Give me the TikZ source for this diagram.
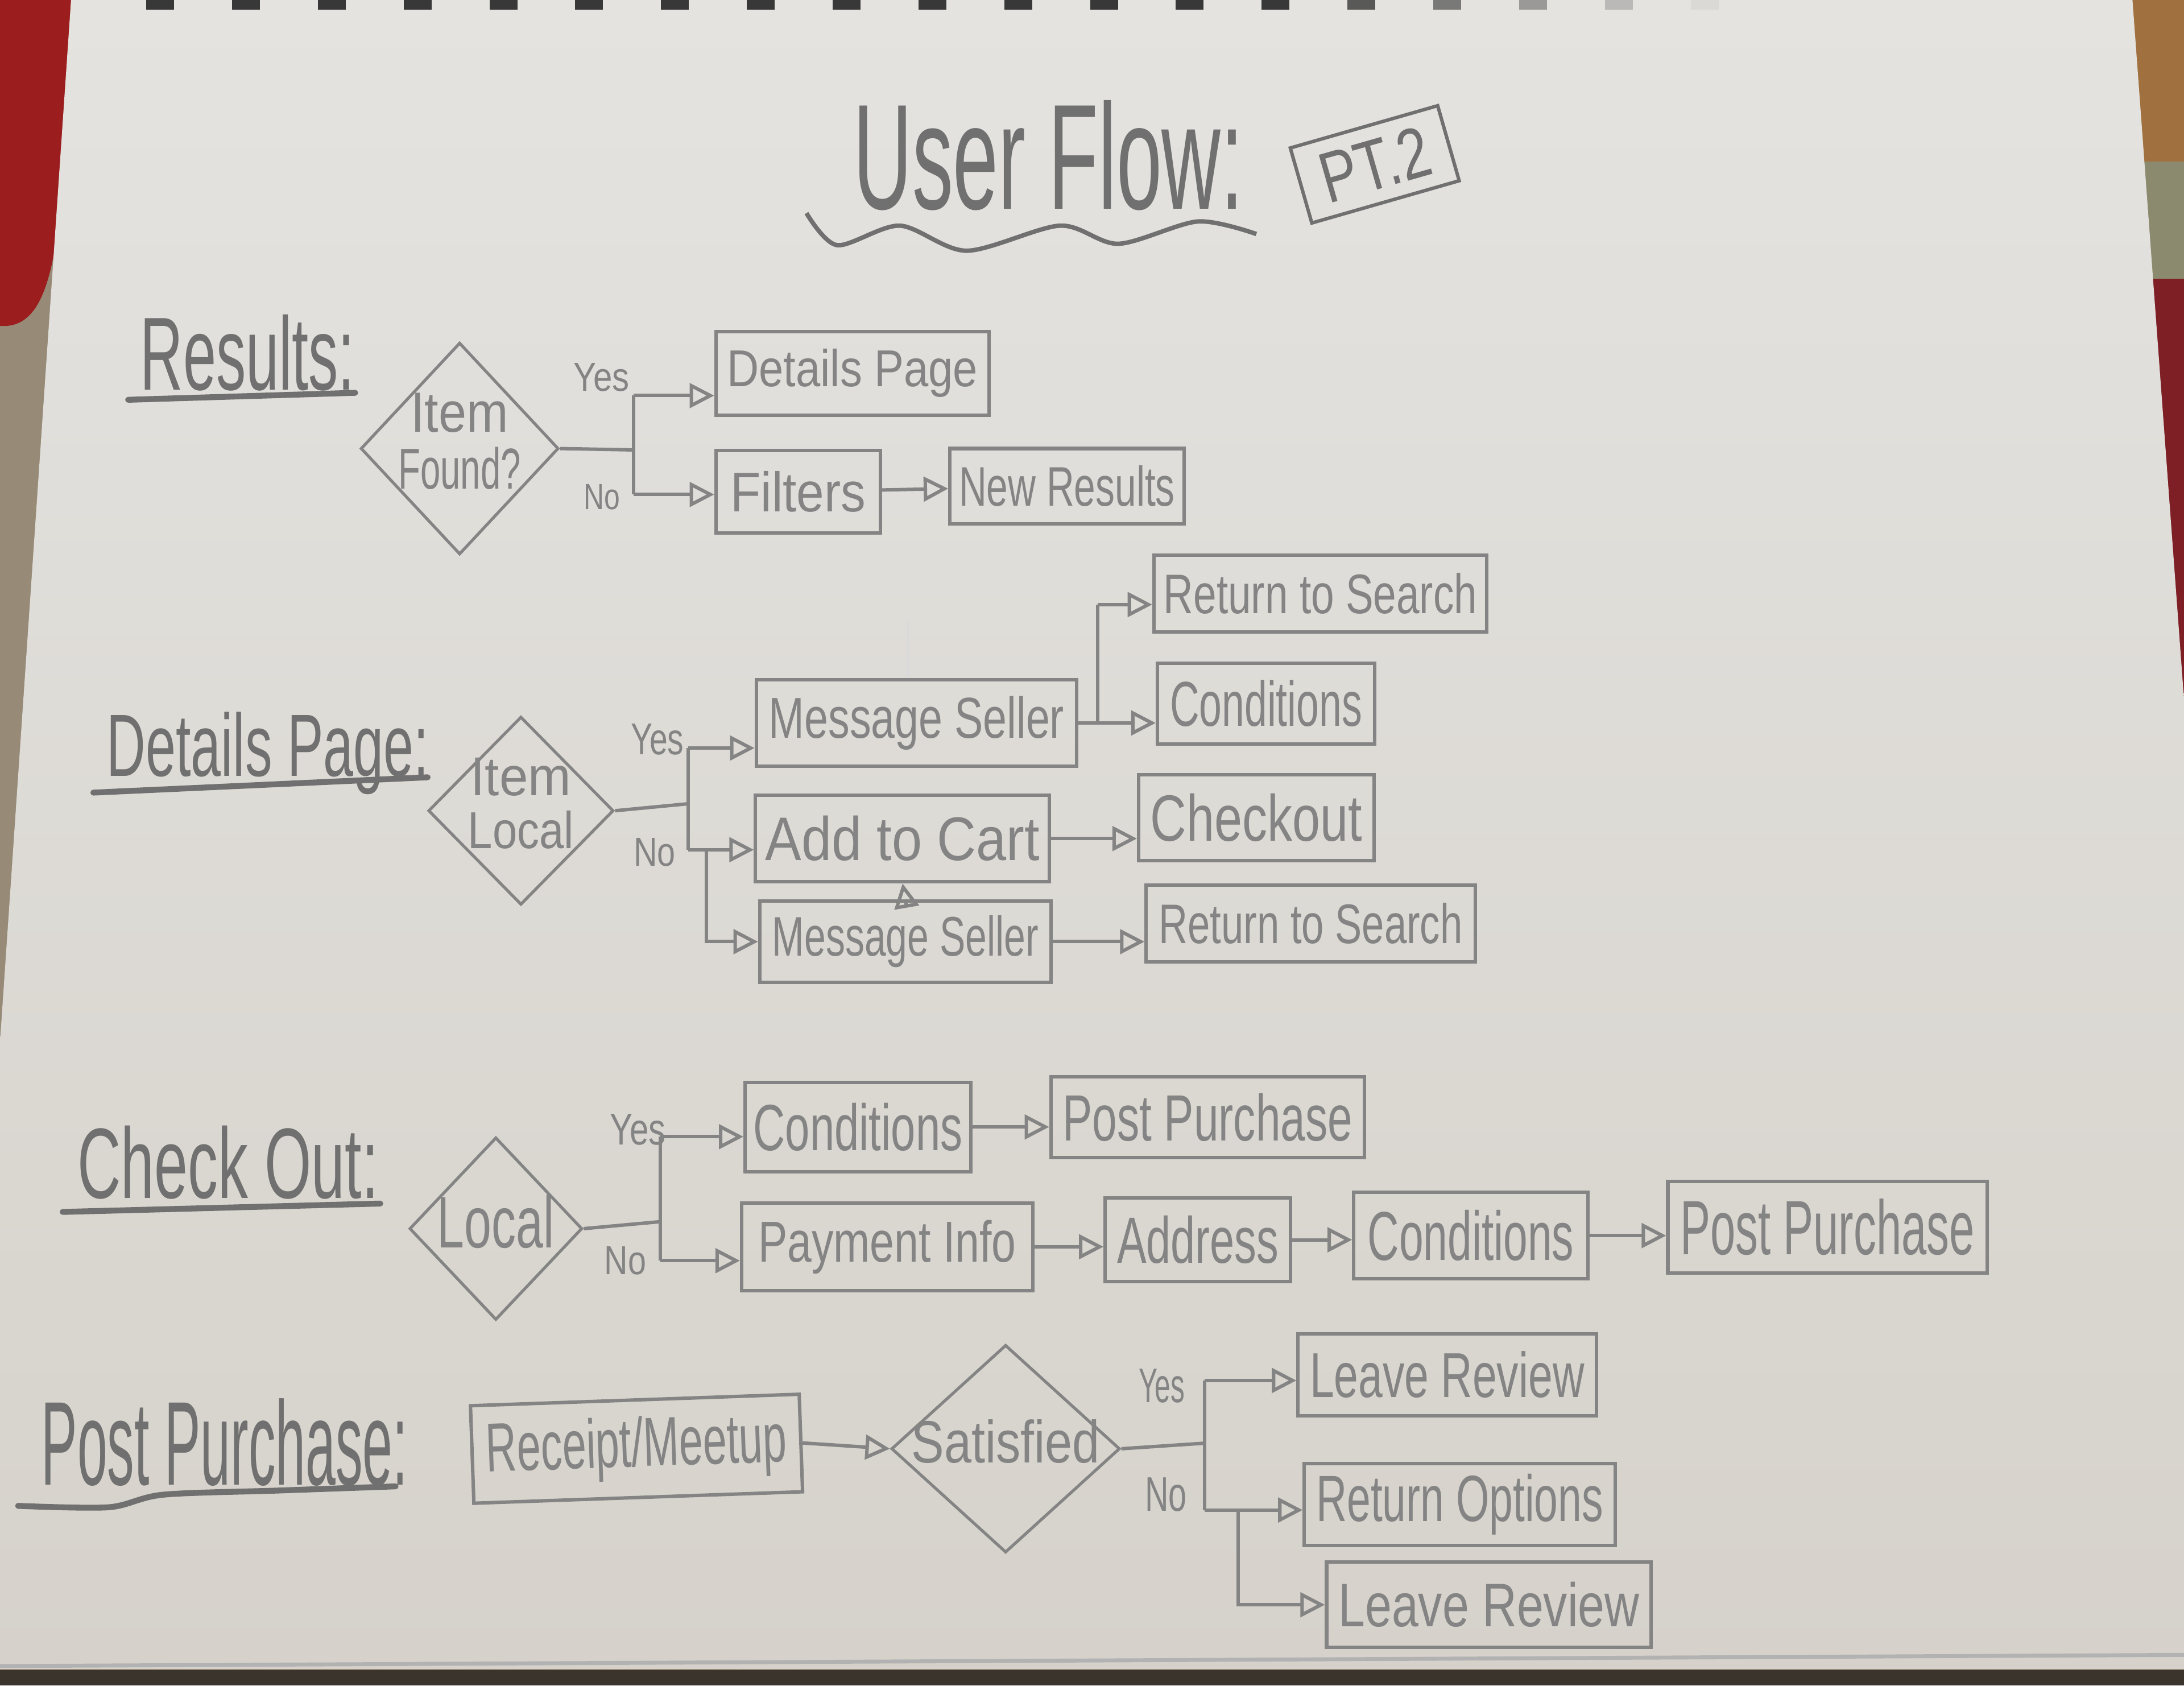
\documentclass[tikz,border=0pt]{standalone}
\usepackage{fontspec}
\setmainfont{Liberation Sans}
\usepackage{graphicx}
\usetikzlibrary{shapes.geometric,arrows.meta}

\definecolor{pencil}{HTML}{848484}
\definecolor{ink}{HTML}{707070}
\definecolor{paperT}{HTML}{E4E3E0}
\definecolor{paperB}{HTML}{D6D2CB}
\definecolor{rug}{HTML}{978A77}
\definecolor{rugred}{HTML}{9B1D1D}
\definecolor{rugbrown}{HTML}{A0703F}
\definecolor{ruggreen}{HTML}{8C8A6E}
\definecolor{rugdark}{HTML}{7D1F25}
\definecolor{floor}{HTML}{3B342C}

\newcommand{\lbl}[3][0.3cm]{\resizebox{#2}{#1}{#3}}
\newcommand{\dtxt}[1]{\makebox[0pt]{\renewcommand{\arraystretch}{0.85}\begin{tabular}{@{}c@{}}#1\end{tabular}}}

\tikzset{
  box/.style={draw=pencil, line width=0.7pt, inner sep=0pt, text=pencil},
  dec/.style={diamond, draw=pencil, line width=0.6pt, inner sep=0pt, text=pencil},
  tag/.style={inner sep=0pt, text=pencil},
  link/.style={draw=pencil, line width=0.7pt},
  arr/.style={draw=pencil, line width=0.7pt, -{Triangle[open,length=5pt,width=5pt]}},
  uline/.style={draw=ink, line width=1.2pt, line cap=round},
  faint/.style={draw=pencil!30, line width=0.5pt}
}

\begin{document}
\begin{tikzpicture}[x=0.01cm,y=-0.01cm]
  \useasboundingbox (0,0) rectangle (1568,1210);
  % table and sheet
  \fill[rug] (0,0) rectangle (1568,1210);
  \fill[rugred] (0,0) -- (52,0) -- (46,120) .. controls (40,200) and (30,236) .. (0,234) -- cycle;
  \fill[rugbrown] (1500,0) rectangle (1568,116);
  \fill[ruggreen] (1500,116) rectangle (1568,200);
  \fill[rugdark] (1500,200) rectangle (1568,520);
  \shade[top color=paperT, bottom color=paperB] (51,0) -- (1531,0) -- (1568,502) -- (1568,1198) -- (0,1198) -- (0,748) -- cycle;
  \fill[floor] (0,1199) rectangle (1568,1210);
  \draw[black!30, line width=0.8pt] (0,1196) -- (1568,1188);
  \foreach \i [evaluate=\i as \op using {min(0.9,0.9-(\i-13)*0.17)}] in {0,...,18}
    \fill[black!85, opacity=\op] ({105+61.6*\i},0) rectangle ++(20,7);

  % title
  \node[tag, anchor=base west, text=ink] (ttl) at (612,150) {\lbl[0.78cm]{2.8cm}{User Flow:}};
  \draw[draw=ink, line width=0.9pt] plot[smooth] coordinates {(579,153) (601,176) (646,162) (694,180) (761,162) (803,175) (860,159) (902,168)};
  \node[box, draw=ink, text=ink, rotate=16, minimum width=1.1cm, minimum height=0.56cm] (pt) at (987,118) {\lbl[0.36cm]{0.8cm}{PT.2}};

  % Results
  \node[tag, anchor=base west, text=ink] (hres) at (100,280) {\lbl[0.54cm]{1.54cm}{Results:}};
  \draw[uline] (92,287) -- (255,282);
  \node[dec, minimum width=1.42cm, minimum height=1.52cm] (found) at (330,322) {\dtxt{\lbl[0.28cm]{0.7cm}{Item}\\\lbl[0.3cm]{0.88cm}{Found?}}};
  \node[box, minimum width=1.96cm, minimum height=0.6cm] (det) at (612,268) {\lbl[0.27cm]{1.8cm}{Details Page}};
  \node[box, minimum width=1.18cm, minimum height=0.59cm] (fil) at (573,353) {\lbl[0.29cm]{0.97cm}{Filters}};
  \node[box, minimum width=1.68cm, minimum height=0.54cm] (newr) at (766,349) {\lbl[0.29cm]{1.55cm}{New Results}};
  \coordinate (rJ) at (455,323);
  \coordinate (rY) at (455,284);
  \coordinate (rN) at (455,355);
  \draw[link] (found.east) -- (rJ);
  \draw[link] (rY) -- (rN);
  \draw[arr] (rY) -- (rY -| det.west);
  \draw[arr] (rN) -- (rN -| fil.west);
  \draw[arr] (fil) -- (newr);
  \node[tag] (ryes) at (432,271) {\lbl[0.2cm]{0.4cm}{Yes}};
  \node[tag] (rno) at (432,357) {\lbl[0.18cm]{0.26cm}{No}};

  % Details Page
  \node[tag, anchor=base west, text=ink] (hdet) at (76,557) {\lbl[0.46cm]{2.31cm}{Details Page:}};
  \draw[uline] (67,569) -- (307,558);
  \node[dec, minimum width=1.33cm, minimum height=1.35cm] (local) at (374,582) {\dtxt{\lbl[0.27cm]{0.72cm}{Item}\\\lbl[0.27cm]{0.76cm}{Local}}};
  \node[box, minimum width=2.3cm, minimum height=0.62cm] (ms1) at (658,519) {\lbl[0.3cm]{2.12cm}{Message Seller}};
  \node[box, minimum width=2.11cm, minimum height=0.62cm] (atc) at (648,602) {\lbl[0.32cm]{1.97cm}{Add to Cart}};
  \node[box, minimum width=2.09cm, minimum height=0.58cm] (ms2) at (650,676) {\lbl[0.29cm]{1.91cm}{Message Seller}};
  \node[box, minimum width=2.39cm, minimum height=0.55cm] (rs1) at (948,426) {\lbl[0.29cm]{2.25cm}{Return to Search}};
  \node[box, minimum width=1.56cm, minimum height=0.58cm] (con1) at (909,505) {\lbl[0.33cm]{1.38cm}{Conditions}};
  \node[box, minimum width=1.69cm, minimum height=0.62cm] (chk) at (902,587) {\lbl[0.34cm]{1.52cm}{Checkout}};
  \node[box, minimum width=2.36cm, minimum height=0.55cm] (rs2) at (941,663) {\lbl[0.29cm]{2.18cm}{Return to Search}};
  \coordinate (dJ) at (494,577);
  \coordinate (dY) at (494,537);
  \coordinate (dN) at (494,610);
  \coordinate (dB) at (507,610);
  \coordinate (mT) at (788,434);
  \draw[link] (local.east) -- (dJ);
  \draw[link] (dY) -- (dN);
  \draw[arr] (dY) -- (dY -| ms1.west);
  \draw[arr] (dN) -- (dN -| atc.west);
  \draw[arr] (dB) |- (ms2.west);
  \draw[link] (ms1.east) -| (mT);
  \draw[arr] (mT) -- (mT -| rs1.west);
  \draw[arr] (ms1.east) -- (ms1.east -| con1.west);
  \draw[arr] (atc.east) -- (atc.east -| chk.west);
  \draw[arr] (ms2.east) -- (ms2.east -| rs2.west);
  \draw[arr] (ms2.north) -- (atc.south);
  \draw[faint] (ms1.north) ++(-6,0) -- ++(0,-40);
  \node[tag] (dyes) at (472,531) {\lbl[0.22cm]{0.38cm}{Yes}};
  \node[tag] (dno) at (470,612) {\lbl[0.2cm]{0.3cm}{No}};

  % Check Out
  \node[tag, anchor=base west, text=ink] (hchk) at (55,860) {\lbl[0.52cm]{2.16cm}{Check Out:}};
  \draw[uline] (45,870) -- (273,864);
  \node[dec, minimum width=1.24cm, minimum height=1.31cm] (lo) at (356,882) {\dtxt{\lbl[0.38cm]{0.84cm}{Local}}};
  \node[box, minimum width=1.62cm, minimum height=0.64cm] (coc) at (616,809) {\lbl[0.34cm]{1.5cm}{Conditions}};
  \node[box, minimum width=2.25cm, minimum height=0.58cm] (pp1) at (867,802) {\lbl[0.34cm]{2.08cm}{Post Purchase}};
  \node[box, minimum width=2.09cm, minimum height=0.63cm] (pay) at (637,895) {\lbl[0.3cm]{1.85cm}{Payment Info}};
  \node[box, minimum width=1.33cm, minimum height=0.6cm] (adr) at (860,890) {\lbl[0.34cm]{1.16cm}{Address}};
  \node[box, minimum width=1.68cm, minimum height=0.62cm] (co2) at (1056,887) {\lbl[0.36cm]{1.48cm}{Conditions}};
  \node[box, minimum width=2.29cm, minimum height=0.66cm] (pp2) at (1312,881) {\lbl[0.4cm]{2.11cm}{Post Purchase}};
  \coordinate (cJ) at (474,877);
  \coordinate (cY) at (474,816);
  \coordinate (cN) at (474,905);
  \draw[link] (lo.east) -- (cJ);
  \draw[link] (cY) -- (cN);
  \draw[arr] (cY) -- (cY -| coc.west);
  \draw[arr] (cN) -- (cN -| pay.west);
  \draw[arr] (coc.east) -- (coc.east -| pp1.west);
  \draw[arr] (pay.east) -- (pay.east -| adr.west);
  \draw[arr] (adr.east) -- (adr.east -| co2.west);
  \draw[arr] (co2.east) -- (co2.east -| pp2.west);
  \node[tag] (cyes) at (458,811) {\lbl[0.22cm]{0.4cm}{Yes}};
  \node[tag] (cno) at (449,905) {\lbl[0.2cm]{0.3cm}{No}};

  % Post Purchase
  \node[tag, anchor=base west, text=ink] (hpp) at (29,1066) {\lbl[0.62cm]{2.63cm}{Post Purchase:}};
  \draw[uline] plot[smooth] coordinates {(13,1081) (78,1082) (117,1073) (200,1070) (284,1067)};
  \node[box, rotate=2, minimum width=2.36cm, minimum height=0.7cm] (rm) at (457,1040) {\lbl[0.36cm]{2.16cm}{Receipt/Meetup}};
  \node[dec, minimum width=1.64cm, minimum height=1.49cm] (sat) at (722,1040) {\dtxt{\lbl[0.31cm]{1.35cm}{Satisfied}}};
  \node[box, minimum width=2.14cm, minimum height=0.59cm] (lr1) at (1039,987) {\lbl[0.33cm]{1.97cm}{Leave Review}};
  \node[box, minimum width=2.23cm, minimum height=0.59cm] (ro) at (1048,1080) {\lbl[0.34cm]{2.06cm}{Return Options}};
  \node[box, minimum width=2.33cm, minimum height=0.61cm] (lr2) at (1069,1152) {\lbl[0.32cm]{2.16cm}{Leave Review}};
  \coordinate (pJ) at (865,1036);
  \coordinate (pY) at (865,991);
  \coordinate (pN) at (865,1084);
  \coordinate (pB) at (889,1084);
  \draw[arr] (rm.east) -- (sat.west);
  \draw[link] (sat.east) -- (pJ);
  \draw[link] (pY) -- (pN);
  \draw[arr] (pY) -- (pY -| lr1.west);
  \draw[arr] (pN) -- (pN -| ro.west);
  \draw[arr] (pB) |- (lr2.west);
  \node[tag] (pyes) at (834,995) {\lbl[0.24cm]{0.33cm}{Yes}};
  \node[tag] (pno) at (837,1073) {\lbl[0.24cm]{0.3cm}{No}};
\end{tikzpicture}
\end{document}
